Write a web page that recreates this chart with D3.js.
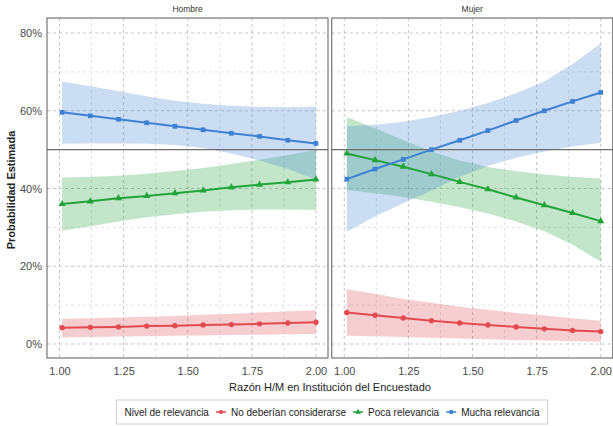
<!DOCTYPE html>
<html>
<head>
<meta charset="utf-8">
<script src="https://cdn.jsdelivr.net/npm/d3@7"></script>
<style>
  body { margin: 0; background: #fff; }
  text { font-family: "Liberation Sans", Arial, sans-serif; }
</style>
</head>
<body>
<svg id="chart" width="613" height="426"></svg>
<script>
// data (percent)
const xVals = [1.01, 1.12, 1.23, 1.34, 1.45, 1.56, 1.67, 1.78, 1.89, 2.00];
const panels = ["Hombre", "Mujer"];
const levels = ["No deberían considerarse", "Poca relevancia", "Mucha relevancia"];

const noDebH = [4.2, 4.3, 4.4, 4.6, 4.7, 4.9, 5.0, 5.2, 5.4, 5.6];
const noDebHLo = [1.7, 1.8, 1.9, 2.0, 2.1, 2.2, 2.3, 2.4, 2.5, 2.6];
const noDebHHi = [6.5, 6.6, 6.8, 7.0, 7.2, 7.5, 7.8, 8.1, 8.4, 8.7];
const pocaH = [36.0, 36.7, 37.5, 38.1, 38.8, 39.5, 40.3, 41.0, 41.6, 42.3];
const pocaHLo = [29.1, 30.3, 31.5, 32.6, 33.4, 34.0, 34.4, 34.6, 34.6, 34.5];
const pocaHHi = [42.8, 43.0, 43.3, 43.8, 44.5, 45.3, 46.3, 47.4, 48.6, 49.9];
const muchaH = [59.6, 58.7, 57.8, 56.9, 56.0, 55.1, 54.2, 53.4, 52.4, 51.6];
const muchaHLo = [51.5, 51.6, 51.6, 51.5, 51.2, 50.4, 49.0, 47.2, 45.0, 42.3];
const muchaHHi = [67.5, 66.3, 65.0, 63.7, 62.6, 61.8, 61.3, 61.0, 60.9, 61.0];

const noDebM = [8.1, 7.4, 6.7, 6.0, 5.4, 4.9, 4.4, 3.9, 3.5, 3.2];
const noDebMLo = [2.1, 2.0, 1.8, 1.6, 1.4, 1.2, 1.0, 0.9, 0.7, 0.6];
const noDebMHi = [14.1, 12.9, 11.6, 10.6, 9.6, 8.8, 8.0, 7.3, 6.6, 6.0];
const pocaM = [49.0, 47.3, 45.6, 43.7, 41.7, 39.8, 37.7, 35.7, 33.7, 31.6];
const pocaMLo = [39.6, 38.8, 37.8, 36.6, 35.2, 33.6, 31.5, 29.0, 25.5, 21.2];
const pocaMHi = [58.4, 55.5, 52.5, 49.5, 47.2, 45.5, 44.5, 43.6, 43.0, 42.6];
const muchaM = [42.4, 45.0, 47.5, 50.0, 52.4, 54.9, 57.5, 60.0, 62.4, 64.7];
const muchaMLo = [28.9, 32.8, 36.2, 39.5, 43.0, 45.8, 47.9, 49.5, 50.8, 51.8];
const muchaMHi = [56.0, 56.4, 57.2, 58.4, 60.0, 62.0, 64.5, 67.5, 72.0, 77.3];

const xTicks = [1.00, 1.25, 1.50, 1.75, 2.00];
const xMinor = [1.125, 1.375, 1.625, 1.875];
const yTicks = [0, 20, 40, 60, 80];
const yMinor = [10, 30, 50, 70];
const refLine = 50;

const series = {
  Hombre: [
    { level: levels[0], mid: noDebH, lo: noDebHLo, hi: noDebHHi },
    { level: levels[1], mid: pocaH, lo: pocaHLo, hi: pocaHHi },
    { level: levels[2], mid: muchaH, lo: muchaHLo, hi: muchaHHi }
  ],
  Mujer: [
    { level: levels[0], mid: noDebM, lo: noDebMLo, hi: noDebMHi },
    { level: levels[1], mid: pocaM, lo: pocaMLo, hi: pocaMHi },
    { level: levels[2], mid: muchaM, lo: muchaMLo, hi: muchaMHi }
  ]
};

const color = d3.scaleOrdinal().domain(levels).range(["#e24a50", "#22a43a", "#3d80d4"]);
const shape = d3.scaleOrdinal().domain(levels).range([d3.symbolCircle, d3.symbolTriangle, d3.symbolSquare]);

const svg = d3.select("#chart");
const panelW = 281, panelTop = 18, panelBottom = 358;
const panelX = d3.scaleBand().domain(panels).range([47, 47 + panelW * 2 + 5]).paddingInner(5 / (panelW * 2 + 5));

const xScale = d3.scaleLinear().domain([1, 2]).range([12.5, 269]);
const yScale = d3.scaleLinear().domain([0, 80]).range([344, 33]);

panels.forEach(p => {
  const g = svg.append("g").attr("transform", `translate(${panelX(p)},0)`);

  // grid
  g.selectAll(".vmin").data(xMinor).join("line")
    .attr("x1", d => xScale(d)).attr("x2", d => xScale(d))
    .attr("y1", panelTop).attr("y2", panelBottom)
    .attr("stroke", "#e2e2e2").attr("stroke-dasharray", "3,3");
  g.selectAll(".hmin").data(yMinor).join("line")
    .attr("x1", 0).attr("x2", panelW)
    .attr("y1", d => yScale(d)).attr("y2", d => yScale(d))
    .attr("stroke", "#e2e2e2").attr("stroke-dasharray", "3,3");
  g.selectAll(".vmaj").data(xTicks).join("line")
    .attr("x1", d => xScale(d)).attr("x2", d => xScale(d))
    .attr("y1", panelTop).attr("y2", panelBottom)
    .attr("stroke", "#c4c4c4").attr("stroke-dasharray", "3,3");
  g.selectAll(".hmaj").data(yTicks).join("line")
    .attr("x1", 0).attr("x2", panelW)
    .attr("y1", d => yScale(d)).attr("y2", d => yScale(d))
    .attr("stroke", "#c4c4c4").attr("stroke-dasharray", "3,3");

  // ribbons
  series[p].forEach(s => {
    const area = d3.area()
      .x((d, i) => xScale(xVals[i]))
      .y0((d, i) => yScale(s.lo[i]))
      .y1((d, i) => yScale(s.hi[i]));
    g.append("path").datum(s.mid)
      .attr("d", area)
      .attr("fill", color(s.level))
      .attr("fill-opacity", 0.27);
  });

  // reference line
  g.append("line")
    .attr("x1", 0).attr("x2", panelW)
    .attr("y1", yScale(refLine)).attr("y2", yScale(refLine))
    .attr("stroke", "#6e6e6e").attr("stroke-width", 1.3);

  // lines + points
  series[p].forEach(s => {
    const line = d3.line()
      .x((d, i) => xScale(xVals[i]))
      .y(d => yScale(d));
    g.append("path").datum(s.mid)
      .attr("d", line)
      .attr("fill", "none")
      .attr("stroke", color(s.level))
      .attr("stroke-width", 2);
    g.selectAll(null).data(s.mid).join("path")
      .attr("transform", (d, i) => `translate(${xScale(xVals[i])},${yScale(d)})`)
      .attr("d", d3.symbol().type(shape(s.level)).size(22))
      .attr("fill", color(s.level));
  });

  // border
  g.append("rect")
    .attr("x", 0).attr("y", panelTop)
    .attr("width", panelW).attr("height", panelBottom - panelTop)
    .attr("fill", "none").attr("stroke", "#5a5a5a").attr("stroke-width", 1);

  // strip label
  g.append("text")
    .attr("x", panelW / 2).attr("y", 12)
    .attr("text-anchor", "middle")
    .attr("font-size", 8.5).attr("fill", "#333")
    .text(p);

  // x axis labels
  const xAxis = d3.axisBottom(xScale).tickValues(xTicks).tickFormat(d3.format(".2f")).tickSize(0).tickPadding(9);
  const xa = g.append("g").attr("transform", `translate(0,${panelBottom})`).call(xAxis);
  xa.select(".domain").remove();
  xa.selectAll("text").attr("font-size", 11).attr("fill", "#4a4a4a")
    .style("font-family", "Liberation Sans, Arial, sans-serif");
});

// y axis labels
const yAxis = d3.axisLeft(yScale).tickValues(yTicks).tickFormat(d => d + "%").tickSize(0).tickPadding(5);
const ya = svg.append("g").attr("transform", `translate(47,0)`).call(yAxis);
ya.select(".domain").remove();
ya.selectAll("text").attr("font-size", 11).attr("fill", "#4a4a4a")
  .style("font-family", "Liberation Sans, Arial, sans-serif");

// axis titles
svg.append("text")
  .attr("transform", "translate(15,190) rotate(-90)")
  .attr("text-anchor", "middle")
  .attr("font-size", 11).attr("font-weight", "bold").attr("fill", "#222")
  .text("Probabilidad Estimada");

svg.append("text")
  .attr("x", 330).attr("y", 391)
  .attr("text-anchor", "middle")
  .attr("font-size", 11).attr("fill", "#222")
  .text("Razón H/M en Institución del Encuestado");

// legend
const legend = svg.append("g");
const legY = 412;
let lx = 0;
const title = legend.append("text").attr("x", lx).attr("y", legY + 3.5)
  .attr("font-size", 10).attr("fill", "#222").text("Nivel de relevancia");
lx += title.node().getComputedTextLength() + 7;
levels.forEach(l => {
  legend.append("line")
    .attr("x1", lx).attr("x2", lx + 10).attr("y1", legY).attr("y2", legY)
    .attr("stroke", color(l)).attr("stroke-width", 1.5);
  legend.append("path")
    .attr("transform", `translate(${lx + 5},${legY})`)
    .attr("d", d3.symbol().type(shape(l)).size(14))
    .attr("fill", color(l));
  lx += 15;
  const t = legend.append("text").attr("x", lx).attr("y", legY + 3.5)
    .attr("font-size", 10).attr("fill", "#222").text(l);
  lx += t.node().getComputedTextLength() + 7;
});
const legW = lx - 7;
const legX0 = 332 - legW / 2;
legend.attr("transform", `translate(${legX0},0)`);
legend.insert("rect", ":first-child")
  .attr("x", -8).attr("y", legY - 12)
  .attr("width", legW + 16).attr("height", 24)
  .attr("fill", "#fff").attr("stroke", "#d0d0d0");
</script>
</body>
</html>
